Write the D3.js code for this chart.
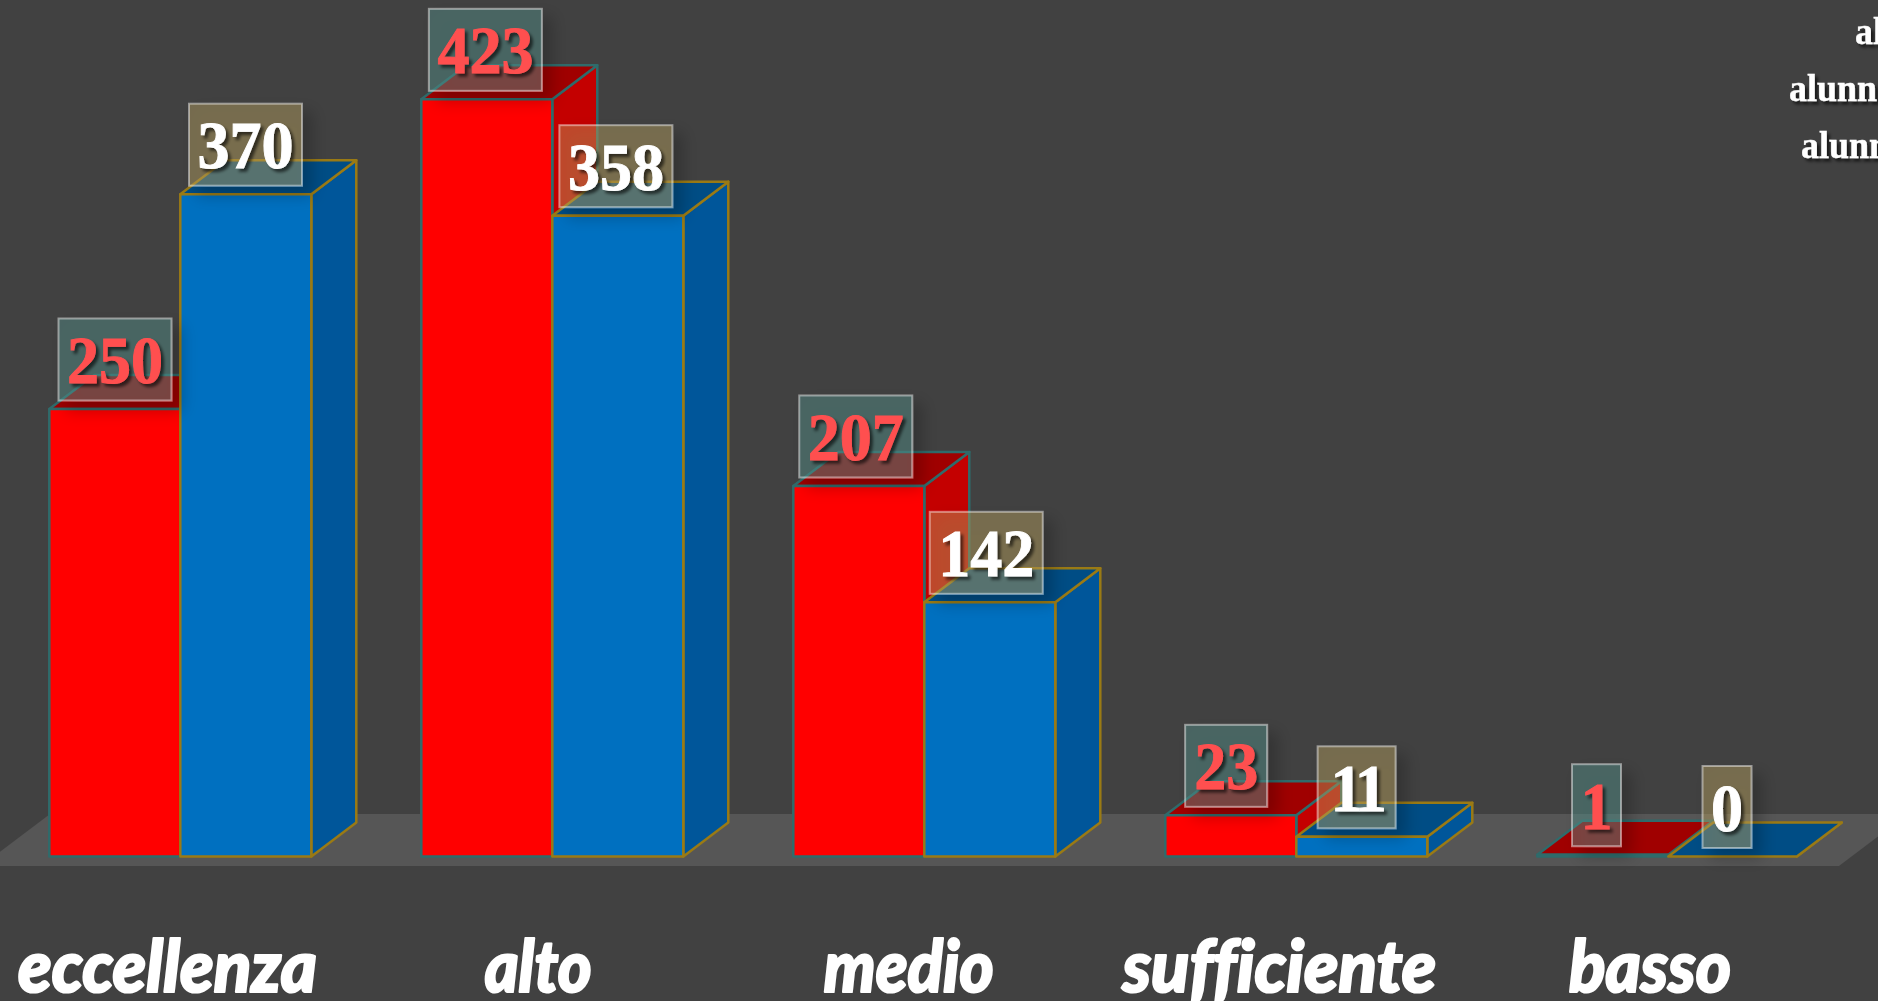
<!DOCTYPE html>
<html><head><meta charset="utf-8">
<script src="https://cdn.jsdelivr.net/npm/d3@7/dist/d3.min.js"></script>
<style>html,body{margin:0;padding:0;background:#414141;overflow:hidden}svg{display:block}</style>
</head><body>
<svg id="c" width="1878" height="1001"></svg>
<script>
const categories = ["eccellenza","alto","medio","sufficiente","basso"];
const redValues = [250,423,207,23,1];
const blueValues = [370,358,142,11,0];
const legendRows = ["al","alunn","alunn"];
const labelWidths = [299,107,170,314,162];

const W=1878,H=1001, base=856.5, depthX=45, depthY=34, barW=131, step=372;
const svg=d3.select("#c");
const defs=svg.append("defs");
const boxF=defs.append("filter").attr("id","boxShadow").attr("x","-40%").attr("y","-40%").attr("width","190%").attr("height","190%");
boxF.append("feGaussianBlur").attr("in","SourceAlpha").attr("stdDeviation",8).attr("result","b");
boxF.append("feOffset").attr("in","b").attr("dx",9).attr("dy",9).attr("result","o");
boxF.append("feComposite").attr("in","o").attr("in2","SourceAlpha").attr("operator","out").attr("result","s");
boxF.append("feComponentTransfer").attr("in","s").attr("result","s2").append("feFuncA").attr("type","linear").attr("slope",0.5);
const m=boxF.append("feMerge"); m.append("feMergeNode").attr("in","s2"); m.append("feMergeNode").attr("in","SourceGraphic");
const txtF=defs.append("filter").attr("id","txtShadow").attr("x","-20%").attr("y","-20%").attr("width","150%").attr("height","150%");
txtF.append("feDropShadow").attr("dx",3).attr("dy",3).attr("stdDeviation",1.6).attr("flood-color","#000").attr("flood-opacity",0.6);

const x0=d3.scaleBand().domain(categories).range([49.3,49.3+step*5]);
const x1=d3.scaleBand().domain(["r","b"]).range([0,barW*2]);
const y=d3.scaleLinear().domain([0,423]).range([base,base-423*1.79]);
const lx=d3.scalePoint().domain(categories).range([167.5,1650]);
const boxX=d3.scalePoint().domain(categories).range([115,1596.5]);
const boxGap={r:0,b:130.5};

svg.append("rect").attr("width",W).attr("height",H).attr("fill","#414141");
svg.append("path").attr("d",d3.line()([[-19,866],[50,814],[W,814],[W,836.5],[1839,866]])+"Z").attr("fill","#565656");

const series=[
 {k:"r",v:redValues,front:"#ff0000",top:"#a00000",side:"#c40000",stroke:"#2f6b6b",boxFill:"rgba(86,146,142,.43)",txt:"#ff5050"},
 {k:"b",v:blueValues,front:"#0070c0",top:"#004d85",side:"#00569a",stroke:"#9a7a14",boxFill:"rgba(186,163,95,.43)",txt:"#ffffff"}
];
const line=d3.line();
const g=svg.append("g");
categories.forEach((c,i)=>{
 series.forEach(s=>{
  const v=s.v[i];
  const l=x0(c)+x1(s.k), r=l+x1.bandwidth()-(v===0?2.5:0), t=y(v), b=y(0);
  const gg=g.append("g").attr("stroke",s.stroke).attr("stroke-width",2.5).attr("stroke-linejoin","round");
  gg.append("path").attr("d",line([[r,t],[r+depthX,t-depthY],[r+depthX,b-depthY],[r,b]])+"Z").attr("fill",s.side);
  gg.append("path").attr("d",line([[l,t],[l+depthX,t-depthY],[r+depthX,t-depthY],[r,t]])+"Z").attr("fill",s.top);
  gg.append("rect").attr("x",l).attr("y",t).attr("width",r-l).attr("height",b-t).attr("fill",s.front);
 });
});
const fs=64;
const lab=svg.append("g");
categories.forEach((c,i)=>{
 series.forEach(s=>{
  const v=s.v[i], str=String(v), n=str.length;
  const cx=boxX(c)+boxGap[s.k];
  const w=str==="11"?78:(n===3?113:n===2?82:49), h=82, bottom=y(v)-8.5;
  lab.append("rect").attr("x",cx-w/2).attr("y",bottom-h).attr("width",w).attr("height",h)
    .attr("fill",s.boxFill).attr("stroke","rgba(255,255,255,.45)").attr("stroke-width",2).attr("filter","url(#boxShadow)");
  lab.append("text").attr("transform",`translate(${cx},${bottom-17.5}) scale(1,1.05)`).attr("text-anchor","middle")
    .attr("font-family","'Liberation Serif'").attr("font-weight",700).attr("font-size",fs)
    .attr("letter-spacing",str==="11"?-4:0)
    .attr("fill",s.txt).attr("stroke",s.txt).attr("stroke-width",0.9).attr("filter","url(#txtShadow)").text(str);
 });
});
svg.append("g").selectAll("text").data(categories).join("text")
 .attr("x",d=>lx(d)).attr("y",992).attr("text-anchor","middle")
 .attr("font-family","Lato").attr("font-weight",900).attr("font-style","italic").attr("font-size",72)
 .style("font-variant-ligatures","none")
 .attr("fill","#fff").attr("stroke","#fff").attr("stroke-width",2.2).attr("stroke-linejoin","round")
 .attr("textLength",(d,i)=>labelWidths[i]).attr("lengthAdjust","spacingAndGlyphs").text(d=>d);
const legendX=[1855,1789,1801], legendY=d3.scalePoint().domain(legendRows.map((d,i)=>i)).range([44,158]);
svg.append("g").selectAll("text").data(legendRows).join("text")
 .attr("transform",(d,i)=>`translate(${legendX[i]},${legendY(i)}) scale(1,1.08)`)
 .attr("font-family","'Liberation Serif'").attr("font-weight",700).attr("font-size",36)
 .attr("fill","#fff").attr("stroke","#fff").attr("stroke-width",0.4).attr("filter","url(#txtShadow)").text(d=>d);
</script>
</body></html>
